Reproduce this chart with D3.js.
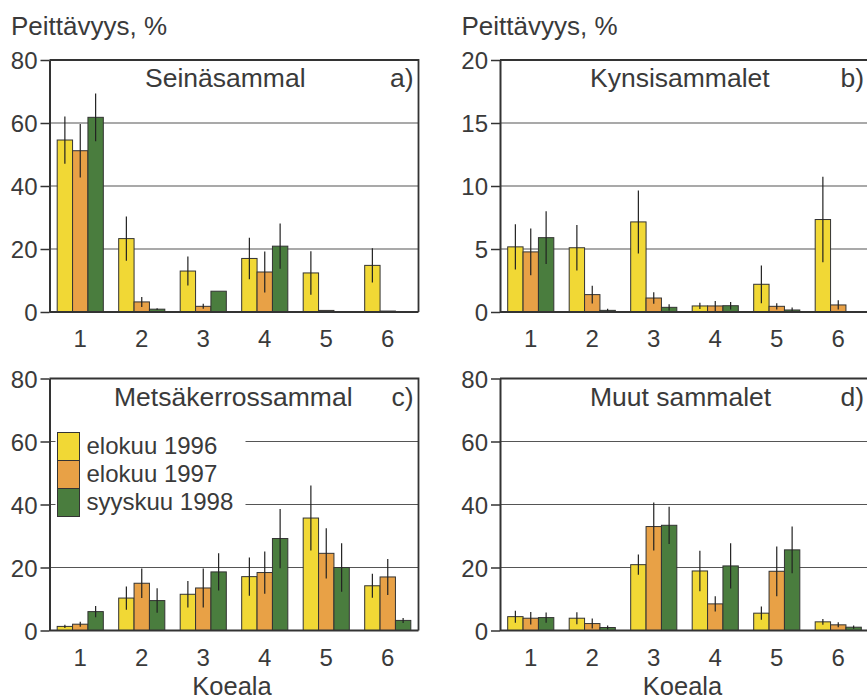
<!DOCTYPE html>
<html>
<head>
<meta charset="utf-8">
<script src="https://cdn.jsdelivr.net/npm/d3@7"></script>
<style>
  body { margin: 0; background: #fff; }
  svg { display: block; font-family: "Liberation Sans", Arial, Helvetica, sans-serif; }
</style>
</head>
<body>
<div class="canvas"></div>
<script>
// koealat (plots) and the three sampling times
const koealat = [1, 2, 3, 4, 5, 6];
const sarjat = ['elokuu 1996', 'elokuu 1997', 'syyskuu 1998'];
const varit = ['#f1d835', '#e8a146', '#4a7d3e'];

// values per koeala: [1996, 1997, 1998], errors the same way
const seinasammal = [[54.6, 51.2, 61.8], [23.3, 3.2, 0.9], [13.0, 1.8, 6.6], [17.0, 12.7, 20.9], [12.4, 0.5, 0], [14.8, 0.3, 0]];
const seinasammalVirhe = [[7.5, 8.5, 7.6], [7.0, 1.6, 0.3], [4.6, 0.8, 0], [6.6, 6.5, 7.2], [6.9, 0, 0], [5.4, 0, 0]];

const kynsisammalet = [[5.17, 4.77, 5.9], [5.1, 1.38, 0.13], [7.15, 1.11, 0.37], [0.48, 0.48, 0.5], [2.2, 0.45, 0.16], [7.34, 0.56, 0]];
const kynsisammaletVirhe = [[1.8, 1.85, 2.1], [1.8, 0.7, 0.13], [2.5, 0.45, 0.25], [0.25, 0.4, 0.3], [1.5, 0.25, 0.2], [3.4, 0.37, 0]];

const metsakerrossammal = [[1.3, 2.0, 6.0], [10.3, 15.0, 9.5], [11.5, 13.5, 18.6], [17.1, 18.4, 29.2], [35.7, 24.5, 20.0], [14.2, 17.0, 3.2]];
const metsakerrossammalVirhe = [[0.5, 0.8, 1.8], [3.7, 4.7, 3.9], [4.2, 6.2, 5.9], [6.1, 6.7, 9.4], [10.3, 8.0, 7.7], [3.8, 5.7, 0.8]];

const muutSammalet = [[4.4, 3.9, 4.1], [3.9, 2.2, 0.95], [20.9, 33.0, 33.4], [18.9, 8.45, 20.5], [5.5, 18.8, 25.6], [2.75, 1.8, 1.05]];
const muutSammaletVirhe = [[1.9, 2.0, 1.6], [1.9, 1.6, 0.6], [3.2, 7.6, 5.9], [6.4, 2.4, 7.2], [2.1, 7.9, 7.4], [0.9, 0.8, 0.5]];

const ticksA = [0, 20, 40, 60, 80];
const ticksB = [0, 5, 10, 15, 20];

const textColor = '#3a3a3a';
const lineColor = '#333';

const dims = { width: 369, height: 252 };

const svg = d3.select('.canvas')
    .append('svg')
    .attr('width', 867)
    .attr('height', 698);

// one bar panel
const panel = (opts) => {
    const g = svg.append('g')
        .attr('transform', `translate(${opts.x}, ${opts.y})`);

    const x0 = d3.scaleBand()
        .domain(koealat)
        .range([0, dims.width])
        .paddingInner(0.25)
        .paddingOuter(0.125);

    const x1 = d3.scaleBand()
        .domain([0, 1, 2])
        .range([0, x0.bandwidth()]);

    const y = d3.scaleLinear()
        .domain([0, d3.max(opts.ticks)])
        .range([dims.height, 0]);

    // gridlines (not at 0 or at the top, the frame takes that)
    g.selectAll('.grid')
        .data(opts.ticks.slice(1, -1))
        .enter()
        .append('line')
        .attr('class', 'grid')
        .attr('x1', 0)
        .attr('x2', dims.width)
        .attr('y1', d => y(d))
        .attr('y2', d => y(d))
        .attr('stroke', '#555')
        .attr('stroke-width', 1.2);

    // legend sits over the gridlines, so it gets a white backing
    if (opts.legend) {
        const leg = g.append('g');
        leg.append('rect')
            .attr('x', 6)
            .attr('y', 50)
            .attr('width', 190)
            .attr('height', 90)
            .attr('fill', '#fff');
        sarjat.forEach((s, i) => {
            leg.append('rect')
                .attr('x', 8)
                .attr('y', 54 + i * 28)
                .attr('width', 22)
                .attr('height', 28)
                .attr('fill', varit[i])
                .attr('stroke', lineColor)
                .attr('stroke-width', 1);
            leg.append('text')
                .attr('x', 37)
                .attr('y', 75 + i * 28)
                .attr('fill', textColor)
                .attr('font-size', 24)
                .text(s);
        });
    }

    // flatten into one record per bar
    const bars = [];
    opts.values.forEach((row, k) => {
        row.forEach((v, s) => {
            bars.push({ koeala: koealat[k], sarja: s, value: v, err: opts.errors[k][s] });
        });
    });

    const groups = g.selectAll('.koeala')
        .data(koealat)
        .enter()
        .append('g')
        .attr('class', 'koeala')
        .attr('transform', d => `translate(${x0(d)}, 0)`);

    groups.selectAll('rect')
        .data(k => bars.filter(b => b.koeala === k && b.value > 0))
        .enter()
        .append('rect')
        .attr('x', d => x1(d.sarja))
        .attr('y', d => y(d.value))
        .attr('width', x1.bandwidth())
        .attr('height', d => dims.height - y(d.value))
        .attr('fill', d => varit[d.sarja])
        .attr('stroke', lineColor)
        .attr('stroke-width', 1);

    // error bars, plain lines without caps
    groups.selectAll('.err')
        .data(k => bars.filter(b => b.koeala === k && b.err > 0))
        .enter()
        .append('line')
        .attr('class', 'err')
        .attr('x1', d => x1(d.sarja) + x1.bandwidth() / 2)
        .attr('x2', d => x1(d.sarja) + x1.bandwidth() / 2)
        .attr('y1', d => y(Math.max(0, d.value - d.err)))
        .attr('y2', d => y(d.value + d.err))
        .attr('stroke', '#222')
        .attr('stroke-width', 1.2);

    // y axis
    const yAxis = d3.axisLeft(y)
        .tickValues(opts.ticks)
        .tickSize(9)
        .tickSizeOuter(0)
        .tickPadding(3);

    const ya = g.append('g').call(yAxis);
    ya.select('.domain').attr('stroke', lineColor).attr('stroke-width', 2);
    ya.selectAll('.tick line').attr('stroke', lineColor).attr('stroke-width', 1.5);
    ya.selectAll('.tick text')
        .attr('fill', textColor)
        .attr('font-size', 24)
        .attr('font-family', '"Liberation Sans", Arial, sans-serif')
        .attr('dy', '0.36em');

    // x axis: baseline and koeala numbers
    g.append('line')
        .attr('x1', 0)
        .attr('x2', dims.width)
        .attr('y1', dims.height)
        .attr('y2', dims.height)
        .attr('stroke', lineColor)
        .attr('stroke-width', 2);

    g.selectAll('.xlab')
        .data(koealat)
        .enter()
        .append('text')
        .attr('class', 'xlab')
        .attr('x', d => x0(d) + x0.bandwidth() / 2)
        .attr('y', dims.height + 35)
        .attr('text-anchor', 'middle')
        .attr('fill', textColor)
        .attr('font-size', 24)
        .text(d => d);

    // frame top and right
    g.append('path')
        .attr('d', `M0,0H${dims.width}V${dims.height}`)
        .attr('fill', 'none')
        .attr('stroke', lineColor)
        .attr('stroke-width', 1.8);

    // titles
    g.append('text')
        .attr('x', opts.titleX)
        .attr('y', 27)
        .attr('fill', textColor)
        .attr('font-size', 26.5)
        .text(opts.title);

    g.append('text')
        .attr('x', dims.width - 5)
        .attr('y', 27)
        .attr('text-anchor', 'end')
        .attr('fill', textColor)
        .attr('font-size', 26.5)
        .text(opts.label);

    if (opts.yTitle) {
        g.append('text')
            .attr('x', -38.5)
            .attr('y', -25)
            .attr('fill', textColor)
            .attr('font-size', 26)
            .text('Peittävyys, %');
    }

    if (opts.xTitle) {
        g.append('text')
            .attr('x', dims.width / 2 - 2)
            .attr('y', dims.height + 64)
            .attr('text-anchor', 'middle')
            .attr('fill', textColor)
            .attr('font-size', 25.5)
            .text('Koeala');
    }
};

panel({ x: 49.5, y: 60, values: seinasammal, errors: seinasammalVirhe, ticks: ticksA,
    title: 'Seinäsammal', titleX: 95.5, label: 'a)', yTitle: true });
panel({ x: 500, y: 60, values: kynsisammalet, errors: kynsisammaletVirhe, ticks: ticksB,
    title: 'Kynsisammalet', titleX: 90, label: 'b)', yTitle: true });
panel({ x: 49.5, y: 378.5, values: metsakerrossammal, errors: metsakerrossammalVirhe, ticks: ticksA,
    title: 'Metsäkerrossammal', titleX: 64.5, label: 'c)', xTitle: true, legend: true });
panel({ x: 500, y: 378.5, values: muutSammalet, errors: muutSammaletVirhe, ticks: ticksA,
    title: 'Muut sammalet', titleX: 90, label: 'd)', xTitle: true });
</script>
</body>
</html>
